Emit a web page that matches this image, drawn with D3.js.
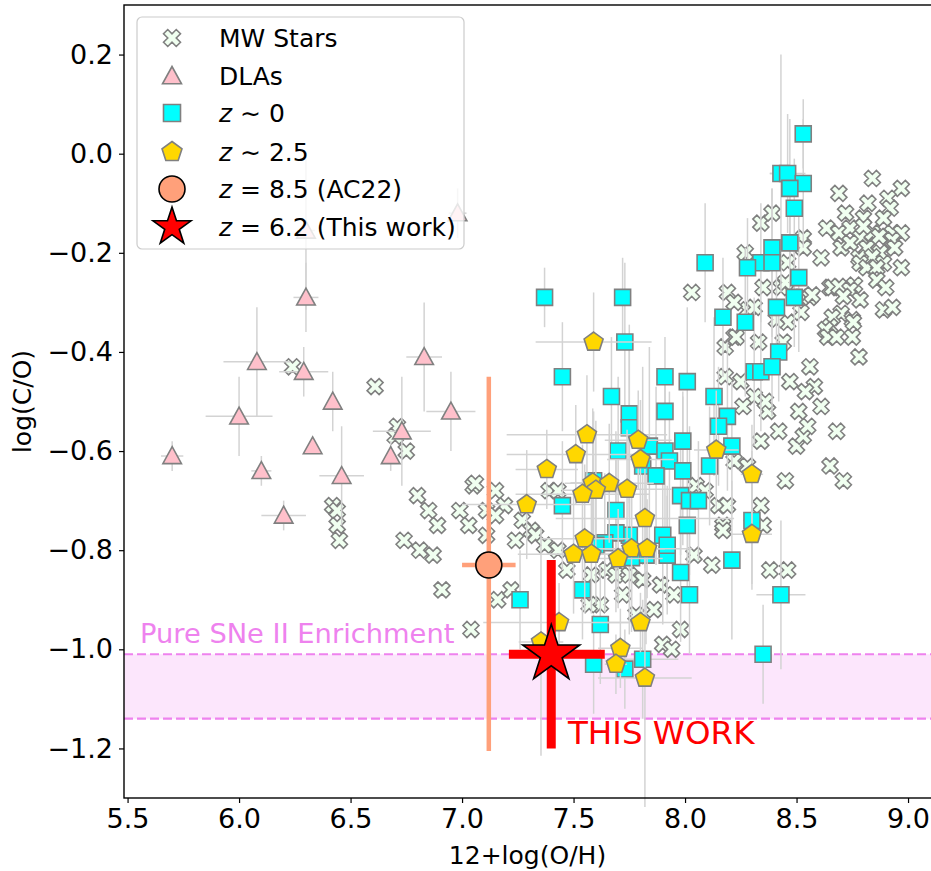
<!DOCTYPE html>
<html><head><meta charset="utf-8">
<script src="https://cdn.jsdelivr.net/npm/d3@7"></script>
<style>body{margin:0;background:#fff;} svg{display:block;font-family:"DejaVu Sans",sans-serif;}</style>
</head><body><svg id="c" width="931" height="871"></svg>
<script>
// ---------------- data ----------------
const xTicks = [5.5, 6.0, 6.5, 7.0, 7.5, 8.0, 8.5, 9.0];
const yTicks = [0.2, 0.0, -0.2, -0.4, -0.6, -0.8, -1.0, -1.2];

const mwOH = [6.24,6.61,6.71,6.70,6.75,6.42,6.44,6.44,6.45,6.80,6.85,6.89,6.74,6.81,6.87,6.91,7.04,7.05,7.06,7.15,7.19,6.99,7.03,7.11,7.15,7.11,7.24,7.16,7.22,7.27,7.31,7.33,7.37,7.43,7.39,7.43,7.47,7.58,7.65,7.69,7.75,7.81,7.89,7.95,7.72,7.62,7.57,7.86,7.78,7.98,7.90,7.94,8.04,8.12,8.38,8.46,8.05,8.09,8.15,8.19,8.17,8.17,8.34,8.35,8.22,8.28,8.45,8.65,8.71,8.68,8.42,8.34,8.50,8.53,8.55,8.61,8.51,8.37,8.36,8.31,8.26,8.58,8.54,8.47,8.25,8.18,8.56,8.18,8.22,8.23,8.33,8.44,8.46,8.41,8.28,8.31,8.52,8.03,8.19,8.22,8.35,8.43,8.45,8.52,8.56,8.57,8.65,8.66,8.27,8.34,8.39,8.46,8.53,8.53,8.61,8.69,8.84,8.97,8.91,8.82,8.72,8.80,8.92,8.89,8.635,8.69,8.74,8.785,8.84,8.93,8.97,8.80,8.87,8.93,8.70,8.74,8.815,8.875,8.94,8.78,8.84,8.785,8.89,8.97,8.815,8.86,8.86,8.90,8.76,8.69,8.74,8.71,8.785,8.89,8.93,8.70,8.66,8.75,8.65,8.63,8.755,8.64,8.68,8.75,8.78];
const mwCO = [-0.43,-0.47,-0.55,-0.57,-0.60,-0.71,-0.72,-0.75,-0.78,-0.69,-0.72,-0.75,-0.78,-0.80,-0.81,-0.88,-0.96,-0.67,-0.665,-0.68,-0.71,-0.72,-0.75,-0.72,-0.73,-0.77,-0.78,-0.90,-0.88,-0.74,-0.76,-0.77,-0.79,-0.80,-0.68,-0.68,-0.84,-0.85,-0.84,-0.85,-0.85,-0.86,-0.87,-0.89,-0.89,-0.91,-0.91,-0.92,-0.93,-0.96,-0.99,-1.00,-0.81,-0.83,-0.84,-0.84,-0.67,-0.68,-0.71,-0.71,-0.75,-0.76,-0.71,-0.75,-0.62,-0.63,-0.66,-0.63,-0.66,-0.56,-0.56,-0.58,-0.59,-0.57,-0.55,-0.51,-0.52,-0.52,-0.50,-0.49,-0.51,-0.47,-0.48,-0.46,-0.46,-0.45,-0.43,-0.39,-0.37,-0.37,-0.38,-0.38,-0.34,-0.335,-0.315,-0.31,-0.32,-0.28,-0.28,-0.30,-0.27,-0.27,-0.26,-0.29,-0.29,-0.285,-0.27,-0.27,-0.20,-0.14,-0.12,-0.22,-0.17,-0.19,-0.21,-0.08,-0.05,-0.07,-0.09,-0.10,-0.12,-0.13,-0.11,-0.13,-0.15,-0.16,-0.15,-0.17,-0.16,-0.16,-0.16,-0.147,-0.167,-0.174,-0.19,-0.18,-0.19,-0.20,-0.19,-0.21,-0.208,-0.221,-0.221,-0.23,-0.23,-0.23,-0.255,-0.27,-0.265,-0.268,-0.275,-0.288,-0.295,-0.315,-0.31,-0.322,-0.33,-0.335,-0.349,-0.355,-0.34,-0.37,-0.37,-0.37,-0.41];

const dlaOH    = [6.30, 6.30, 6.98, 6.08, 6.00, 6.29, 6.42, 6.33, 5.70, 6.10, 6.46, 6.20, 6.73, 6.68, 6.83, 6.95];
const dlaCO    = [-0.155,-0.29,-0.12,-0.42,-0.53,-0.44,-0.50,-0.59,-0.61,-0.64,-0.65,-0.73,-0.56,-0.61,-0.41,-0.52];
const dlaErrOH = [0.04, 0.056,0.04, 0.15, 0.15, 0.11, 0.0,  0.0,  0.05, 0.045,0.10, 0.10, 0.13, 0.0,  0.08, 0.11];
const dlaErrCO = [0.16, 0.07, 0.05, 0.11, 0.08, 0.05, 0.06, 0.0,  0.03, 0.03, 0.10, 0.03, 0.11, 0.03, 0.11, 0.08];

const z0OH    = [8.53,8.43,8.46,8.53,8.47,8.49,8.47,8.39,8.34,8.39,8.28,8.09,8.51,8.49,7.37,7.72,8.41,8.27,8.17,7.73,8.42,8.31,8.34,8.39,7.45,7.91,8.01,7.67,8.13,7.75,7.91,8.19,8.15,7.75,7.99,8.21,7.84,7.70,7.91,7.93,7.81,8.11,7.99,7.87,7.59,7.98,8.02,8.06,7.45,7.69,8.01,8.30,7.90,7.75,7.69,7.64,7.92,8.21,7.98,7.825,7.76,8.02,7.54,7.26,8.43,8.35,7.62,7.59,7.73,7.81,7.60,7.92];
const z0CO    = [0.04,-0.04,-0.04,-0.06,-0.07,-0.11,-0.18,-0.19,-0.22,-0.22,-0.23,-0.22,-0.25,-0.29,-0.29,-0.29,-0.31,-0.34,-0.33,-0.38,-0.40,-0.44,-0.44,-0.43,-0.45,-0.45,-0.46,-0.49,-0.49,-0.525,-0.52,-0.53,-0.55,-0.553,-0.58,-0.59,-0.59,-0.60,-0.60,-0.62,-0.63,-0.63,-0.64,-0.65,-0.66,-0.69,-0.70,-0.70,-0.71,-0.72,-0.75,-0.74,-0.77,-0.77,-0.765,-0.785,-0.81,-0.82,-0.845,-0.81,-0.815,-0.89,-0.88,-0.90,-0.89,-1.01,-0.95,-1.03,-1.04,-1.02,-0.79,-0.79];
const z0ErrOH = [0.02,0.05,0.08,0.03,0.03,0.03,0.03,0.02,0.03,0.03,0.03,0.02,0.03,0.03,0.02,0.02,0.03,0.03,0.02,0.03,0.03,0.03,0.02,0.03,0.02,0.03,0.02,0.02,0.02,0.03,0.02,0.02,0.02,0.02,0.02,0.02,0.03,0.03,0.02,0.03,0.02,0.02,0.02,0.02,0.02,0.02,0.02,0.03,0.02,0.02,0.02,0.04,0.03,0.03,0.02,0.02,0.02,0.02,0.02,0.02,0.02,0.02,0.03,0.02,0.11,0.02,0.02,0.02,0.02,0.16,0.02,0.02];
const z0ErrCO = [0.07,0.24,0.12,0.13,0.14,0.10,0.12,0.12,0.12,0.15,0.10,0.12,0.15,0.10,0.06,0.08,0.12,0.15,0.12,0.16,0.10,0.15,0.12,0.10,0.11,0.08,0.15,0.12,0.16,0.18,0.08,0.15,0.12,0.18,0.10,0.13,0.20,0.15,0.16,0.14,0.20,0.12,0.15,0.18,0.14,0.12,0.15,0.12,0.13,0.16,0.14,0.14,0.18,0.20,0.16,0.14,0.12,0.16,0.14,0.18,0.15,0.12,0.10,0.10,0.15,0.10,0.12,0.10,0.08,0.12,0.12,0.12];

const z25OH    = [7.59,7.56,7.79,7.51,7.80,8.14,7.38,8.30,7.29,7.586,7.66,7.60,7.54,7.74,7.82,8.30,7.55,7.50,7.58,7.76,7.83,7.70,7.435,7.354,7.80,7.71,7.69,7.82];
const z25CO    = [-0.38,-0.567,-0.578,-0.607,-0.617,-0.598,-0.637,-0.647,-0.708,-0.664,-0.665,-0.679,-0.687,-0.677,-0.736,-0.768,-0.777,-0.808,-0.808,-0.797,-0.797,-0.817,-0.946,-0.985,-0.946,-0.998,-1.03,-1.058];
const z25ErrOH = [0.26,0.36,0.15,0.31,0.15,0.10,0.14,0.05,0.29,0.10,0.20,0.15,0.30,0.20,0.40,0.09,0.20,0.25,0.20,0.15,0.20,0.20,0.34,0.10,0.15,0.10,0.05,0.21];
const z25ErrCO = [0.10,0.12,0.10,0.10,0.12,0.12,0.08,0.10,0.11,0.15,0.12,0.14,0.10,0.12,0.10,0.10,0.15,0.12,0.12,0.12,0.10,0.10,0.08,0.23,0.06,0.08,0.06,0.26];

const ac22OH = [7.12], ac22CO = [-0.83], ac22ErrOH = [0.12], ac22ErrCOlo = [0.375], ac22ErrCOhi = [0.38];
const thisOH = [7.40], thisCO = [-1.01], thisErrOHlo = [0.19], thisErrOHhi = [0.24], thisErrCO = [0.19];
const sneBand = [-1.14, -1.01];

const legendLabels = ["MW Stars", "DLAs", "z~0", "z~2.5", "z=8.5 (AC22)", "z=6.2 (This work)"];

// ---------------- layout ----------------
const svg = d3.select("#c");
const L = 124, T = 5, B = 798, R = 934.8;
const x = d3.scaleLinear().domain([5.484, 9.12]).range([L, R]);
const y = d3.scaleLinear().domain([-1.3, 0.3]).range([B, T]);

const G = svg.append("g");

// band
G.append("rect").attr("x", L).attr("width", R - L)
  .attr("y", y(sneBand[1])).attr("height", y(sneBand[0]) - y(sneBand[1]))
  .attr("fill", "#ee82ee").attr("fill-opacity", 0.2);
sneBand.forEach(v => G.append("line").attr("x1", L).attr("x2", R).attr("y1", y(v)).attr("y2", y(v))
  .attr("stroke", "#ee82ee").attr("stroke-width", 2.2).attr("stroke-dasharray", "9,4"));
G.append("text").attr("x", 140).attr("y", 643).attr("fill", "#ee82ee").attr("font-size", 27.3)
  .text("Pure SNe II Enrichment");

// marker shapes
function xPath(s) {
  const w = s / 3, c = Math.SQRT1_2;
  const p = [[-w,s],[w,s],[w,w],[s,w],[s,-w],[w,-w],[w,-s],[-w,-s],[-w,-w],[-s,-w],[-s,w],[-w,w]];
  return "M" + p.map(([a,b]) => [((a-b)*c).toFixed(2), ((a+b)*c).toFixed(2)].join(",")).join("L") + "Z";
}
function triPath(s) { return `M0,${-s}L${s},${s*0.82}L${-s},${s*0.82}Z`; }
function sqPath(s) { return `M${-s},${-s}H${s}V${s}H${-s}Z`; }
function polyPath(r, n, r2) {
  const pts = [];
  for (let i = 0; i < n * (r2 ? 2 : 1); i++) {
    const rr = r2 && i % 2 ? r2 : r;
    const a = -Math.PI / 2 + i * Math.PI * 2 / (n * (r2 ? 2 : 1));
    pts.push([(rr * Math.cos(a)).toFixed(2), (rr * Math.sin(a)).toFixed(2)].join(","));
  }
  return "M" + pts.join("L") + "Z";
}

function errbars(g, xs, ys, exLo, exHi, eyLo, eyHi, color, width) {
  xs.forEach((xv, i) => {
    const yv = ys[i];
    if (eyLo[i] || eyHi[i]) g.append("line").attr("x1", x(xv)).attr("x2", x(xv))
      .attr("y1", y(yv - eyLo[i])).attr("y2", y(yv + eyHi[i])).attr("stroke", color).attr("stroke-width", width);
    if (exLo[i] || exHi[i]) g.append("line").attr("y1", y(yv)).attr("y2", y(yv))
      .attr("x1", x(xv - exLo[i])).attr("x2", x(xv + exHi[i])).attr("stroke", color).attr("stroke-width", width);
  });
}
function markers(g, xs, ys, path, fill, stroke, sw) {
  g.selectAll(null).data(xs.map((v, i) => [v, ys[i]])).enter().append("path")
    .attr("d", path).attr("transform", d => `translate(${x(d[0])},${y(d[1])})`)
    .attr("fill", fill).attr("stroke", stroke).attr("stroke-width", sw);
}
const EC = "#d3d3d3";

// MW stars
markers(G.append("g"), mwOH, mwCO, xPath(8.5), "#f0fff0", "#808080", 1.6);
// DLAs
const gD = G.append("g");
errbars(gD, dlaOH, dlaCO, dlaErrOH, dlaErrOH, dlaErrCO, dlaErrCO, EC, 1.5);
markers(gD, dlaOH, dlaCO, triPath(9.3), "#ffc0cb", "#808080", 1.6);
// z~0
const g0 = G.append("g");
errbars(g0, z0OH, z0CO, z0ErrOH, z0ErrOH, z0ErrCO, z0ErrCO, EC, 1.5);
markers(g0, z0OH, z0CO, sqPath(8), "#00ffff", "#808080", 1.6);
// z~2.5
const g25 = G.append("g");
errbars(g25, z25OH, z25CO, z25ErrOH, z25ErrOH, z25ErrCO, z25ErrCO, EC, 1.5);
markers(g25, z25OH, z25CO, polyPath(10, 5), "#ffd700", "#808080", 1.6);
// AC22
const gA = G.append("g");
errbars(gA, ac22OH, ac22CO, ac22ErrOH, ac22ErrOH, ac22ErrCOlo, ac22ErrCOhi, "#ffa07a", 4.5);
markers(gA, ac22OH, ac22CO, d3.symbol(d3.symbolCircle, Math.PI * 13 * 13)(), "#ffa07a", "#000", 1.6);
// This work
const gT = G.append("g");
errbars(gT, thisOH, thisCO, thisErrOHlo, thisErrOHhi, thisErrCO, thisErrCO, "#ff0000", 9);
markers(gT, thisOH, thisCO, polyPath(30, 5, 30 * 0.382), "#ff0000", "#000", 1.6);
G.append("text").attr("x", 568).attr("y", 744).attr("fill", "#ff0000").attr("font-size", 32.5).text("THIS WORK");

// axes
const fmt = d3.format(".1f");
const ax = svg.append("g").attr("transform", `translate(0,${B})`)
  .call(d3.axisBottom(x).tickValues(xTicks).tickFormat(fmt).tickSize(5).tickPadding(6).tickSizeOuter(0));
const ay = svg.append("g").attr("transform", `translate(${L},0)`)
  .call(d3.axisLeft(y).tickValues(yTicks).tickFormat(fmt).tickSize(5).tickPadding(6).tickSizeOuter(0));
[ax, ay].forEach(a => {
  a.select(".domain").remove();
  a.selectAll("line").attr("stroke", "#000").attr("stroke-width", 1.2);
  a.selectAll("text").attr("font-size", 27).attr("font-family", "DejaVu Sans").attr("fill", "#000");
});
// spines
svg.append("rect").attr("x", L).attr("y", T).attr("width", R - L).attr("height", B - T)
  .attr("fill", "none").attr("stroke", "#000").attr("stroke-width", 1.4);

svg.append("text").attr("x", (L + 931) / 2).attr("y", 864).attr("text-anchor", "middle")
  .attr("font-size", 25).text("12+log(O/H)");
svg.append("text").attr("transform", `translate(31,${(T + B) / 2}) rotate(-90)`).attr("text-anchor", "middle")
  .attr("font-size", 25).text("log(C/O)");

// legend
const lg = svg.append("g");
lg.append("rect").attr("x", 137).attr("y", 17).attr("width", 327).attr("height", 232).attr("rx", 5)
  .attr("fill", "#fff").attr("fill-opacity", 0.8).attr("stroke", "#cccccc").attr("stroke-width", 1.2);
const rowY = [38, 76, 113, 152, 189, 227];
const lgShapes = [
  [xPath(9), "#f0fff0", "#808080"],
  [triPath(9.5), "#ffc0cb", "#808080"],
  [sqPath(8.5), "#00ffff", "#808080"],
  [polyPath(10.5, 5), "#ffd700", "#808080"],
  [d3.symbol(d3.symbolCircle, Math.PI * 13 * 13)(), "#ffa07a", "#000"],
  [polyPath(20, 5, 20 * 0.382), "#ff0000", "#000"]
];
lgShapes.forEach((s, i) => lg.append("path").attr("d", s[0]).attr("transform", `translate(172,${rowY[i]})`)
  .attr("fill", s[1]).attr("stroke", s[2]).attr("stroke-width", 1.6));
legendLabels.forEach((t, i) => {
  const tx = lg.append("text").attr("x", 219).attr("y", rowY[i] + 9).attr("font-size", 25);
  if (t.startsWith("z")) {
    tx.append("tspan").attr("font-style", "italic").text("z");
    let rest = t.slice(1);
    if (rest.startsWith("~")) rest = " \u223C " + rest.slice(1);
    else if (rest.startsWith("=")) rest = " = " + rest.slice(1);
    tx.append("tspan").text(rest);
  } else tx.text(t);
});
</script></body></html>
